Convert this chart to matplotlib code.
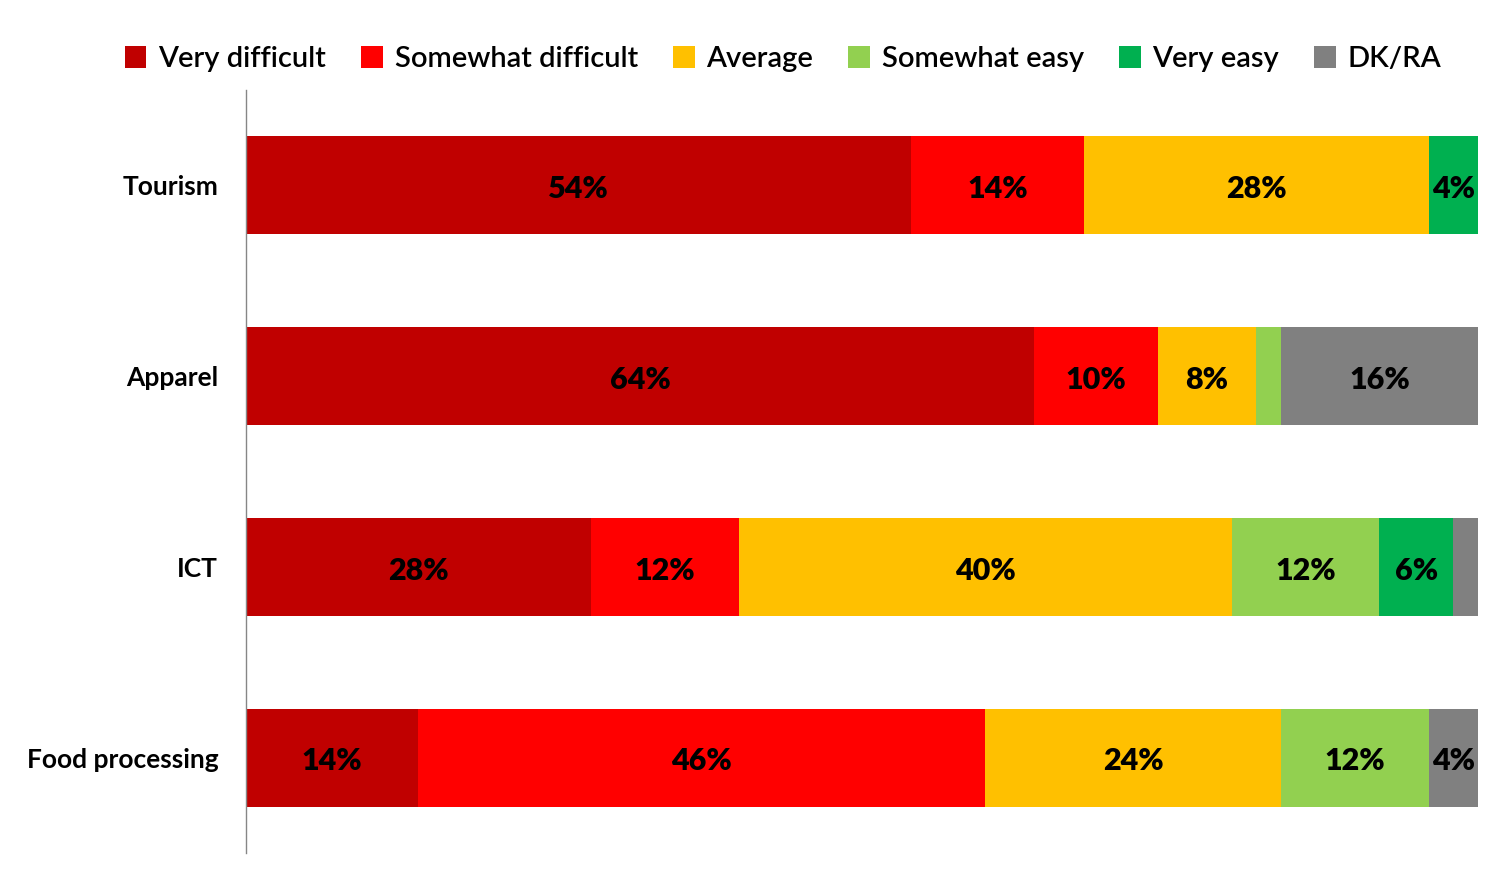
import matplotlib
matplotlib.use("Agg")
import matplotlib.pyplot as plt
from matplotlib.patches import Patch

plt.rcParams['font.family'] = ['Lato', 'DejaVu Sans']

categories = ["Tourism", "Apparel", "ICT", "Food processing"]
series_names = ["Very difficult", "Somewhat difficult", "Average", "Somewhat easy", "Very easy", "DK/RA"]
colors = ["#C00000", "#FF0000", "#FFC000", "#92D050", "#00B050", "#808080"]
very_difficult = [54, 64, 28, 14]
somewhat_difficult = [14, 10, 12, 46]
average = [28, 8, 40, 24]
somewhat_easy = [0, 2, 12, 12]
very_easy = [4, 0, 6, 0]
dk_ra = [0, 16, 2, 4]
series = [very_difficult, somewhat_difficult, average, somewhat_easy, very_easy, dk_ra]

fig = plt.figure(figsize=(15.02, 8.77), dpi=100)
ax = fig.add_axes([246/1502, 1-853/877, (1478-246)/1502, (853-90)/877])

ypos = list(range(len(categories)))
left = [0]*len(categories)
for name, vals, col in zip(series_names, series, colors):
    ax.barh(ypos, vals, left=left, height=0.513, color=col, label=name, linewidth=0)
    for y, v, l in zip(ypos, vals, left):
        if v >= 4:
            ax.text(l + v/2, y + 0.02, f"{v}%", ha='center', va='center',
                    fontsize=22, fontweight='heavy', color='black')
    left = [a+b for a, b in zip(left, vals)]

ax.set_xlim(0, 100)
ax.set_ylim(3.5, -0.5)
ax.set_yticks(ypos)
ax.set_yticklabels(categories, fontsize=19, fontweight='bold')
ax.tick_params(axis='y', length=0, pad=20)
ax.set_xticks([])
for s in ['top', 'right', 'bottom']:
    ax.spines[s].set_visible(False)
ax.spines['left'].set_color('#868686')
ax.spines['left'].set_linewidth(1)

handles = [Patch(facecolor=c, edgecolor='none', label=n) for n, c in zip(series_names, colors)]
fig.legend(handles=handles, loc='center', bbox_to_anchor=(783/1502, 1-59/877), ncol=6,
           frameon=False, prop={'size': 21, 'weight': 'semibold'}, handlelength=0.75, handleheight=0.75,
           handletextpad=0.4, columnspacing=1.2)

fig.savefig("out.png", dpi=100)
